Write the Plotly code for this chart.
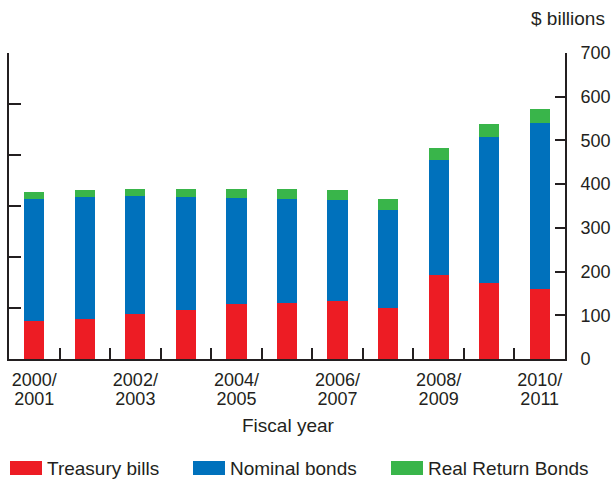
import plotly.graph_objects as go

years = ["2000/2001", "2001/2002", "2002/2003", "2003/2004", "2004/2005", "2005/2006",
         "2006/2007", "2007/2008", "2008/2009", "2009/2010", "2010/2011"]
treasury_bills = [87, 92, 103, 112, 126, 129, 132, 116, 192, 175, 161]
nominal_bonds = [280, 279, 271, 259, 243, 238, 232, 224, 263, 333, 379]
real_return_bonds = [15, 16, 16, 17, 20, 22, 23, 25, 27, 29, 31]
series_names = ["Treasury bills", "Nominal bonds", "Real Return Bonds"]
series_colors = ["#ED1C24", "#0071BC", "#39B54A"]
label_idx = [0, 2, 4, 6, 8, 10]
label_line1 = ["2000/", "2002/", "2004/", "2006/", "2008/", "2010/"]
label_line2 = ["2001", "2003", "2005", "2007", "2009", "2011"]
y_ticks = [0, 100, 200, 300, 400, 500, 600, 700]

INK = "#231F20"
FONT = "Liberation Sans, Arial, sans-serif"

W, H = 611, 481
ML, MR, MT, MB = 9, 46, 53, 122
pw, ph = W - ML - MR, H - MT - MB


def px2paper(px, py):
    return (px - ML) / pw, (H - MB - py) / ph


x = list(range(len(years)))
fig = go.Figure()
for name, vals, col in zip(series_names, [treasury_bills, nominal_bonds, real_return_bonds], series_colors):
    fig.add_trace(go.Bar(x=x, y=vals, name=name, marker=dict(color=col, line=dict(width=0)),
                         width=0.4, showlegend=False, hovertext=years))

# invisible helper traces so the overlay axes are drawn
fig.add_trace(go.Scatter(x=[None], y=[None], yaxis="y2", xaxis="x", showlegend=False, hoverinfo="skip"))
fig.add_trace(go.Scatter(x=[None], y=[None], yaxis="y", xaxis="x2", showlegend=False, hoverinfo="skip"))
fig.add_trace(go.Scatter(x=[None], y=[None], yaxis="y", xaxis="x3", showlegend=False, hoverinfo="skip"))

label_axis = dict(range=[-0.5, 10.5], overlaying="x", side="bottom", anchor="y",
                  tickvals=label_idx, ticks="", showline=False, showgrid=False,
                  zeroline=False, automargin=False, tickfont=dict(size=18, color=INK))

fig.update_layout(
    width=W, height=H,
    margin=dict(l=ML, r=MR, t=MT, b=MB, autoexpand=False),
    paper_bgcolor="white", plot_bgcolor="white",
    barmode="stack",
    font=dict(family=FONT, size=18, color=INK),
    xaxis=dict(range=[-0.5, 10.5], showline=True, linecolor=INK, linewidth=2,
               tickvals=[i + 0.5 for i in range(10)], ticks="inside", ticklen=11,
               tickwidth=2, tickcolor=INK, showticklabels=False, showgrid=False,
               zeroline=False, anchor="y", automargin=False),
    xaxis2=dict(label_axis, ticktext=label_line1, ticklabelstandoff=8),
    xaxis3=dict(label_axis, ticktext=label_line2, ticklabelstandoff=27),
    yaxis=dict(range=[0, 700], side="right", tickvals=y_ticks, ticks="inside",
               ticklen=10, tickwidth=2, tickcolor=INK, showline=True, linecolor=INK,
               linewidth=2, showgrid=False, zeroline=False, ticklabelstandoff=10,
               tickfont=dict(size=18, color=INK), anchor="x", automargin=False),
    yaxis2=dict(range=[0, 6], overlaying="y", side="left", dtick=1, ticks="inside",
                ticklen=12, tickwidth=2, tickcolor=INK, showline=True, linecolor=INK,
                linewidth=2, showgrid=False, zeroline=False, showticklabels=False,
                anchor="x", automargin=False),
)

anns = []
ax, ay = px2paper(607, 19)
anns.append(dict(text="$ billions", x=ax, y=ay, xref="paper", yref="paper",
                 xanchor="right", yanchor="middle", showarrow=False,
                 font=dict(size=19, color=INK)))
ax, ay = px2paper(288, 425)
anns.append(dict(text="Fiscal year", x=ax, y=ay, xref="paper", yref="paper",
                 xanchor="center", yanchor="middle", showarrow=False,
                 font=dict(size=19, color=INK)))

legend_x = [10, 193, 391]
shapes = []
for lx, name, col in zip(legend_x, series_names, series_colors):
    x0, y0 = px2paper(lx, 475)
    x1, y1 = px2paper(lx + 32, 461)
    shapes.append(dict(type="rect", xref="paper", yref="paper", x0=x0, x1=x1, y0=y0, y1=y1,
                       fillcolor=col, line=dict(width=0)))
    tx, ty = px2paper(lx + 35, 468)
    anns.append(dict(text=name, x=tx, y=ty, xref="paper", yref="paper", xanchor="left",
                     yanchor="middle", showarrow=False, font=dict(size=19, color=INK)))

fig.update_layout(annotations=anns, shapes=shapes)
fig.write_html("out.html", config={"displayModeBar": False},
               post_script="document.body.style.margin='0';document.body.style.overflow='hidden';")
